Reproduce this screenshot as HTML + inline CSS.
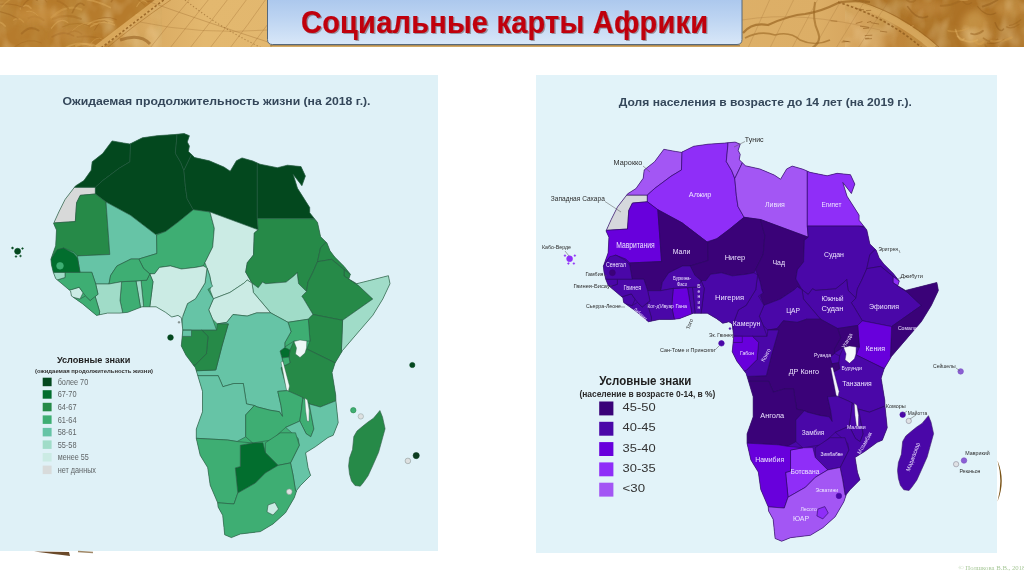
<!DOCTYPE html><html><head><meta charset="utf-8"><style>html,body{margin:0;padding:0;background:#fff;}body{width:1024px;height:574px;position:relative;overflow:hidden;font-family:"Liberation Sans",sans-serif;}.abs{position:absolute;}</style></head><body>
<svg class="abs" style="left:0;top:0" width="1024" height="574" viewBox="0 0 1024 574">
<defs><filter id="swirl" x="0" y="0" width="100%" height="100%"><feTurbulence type="fractalNoise" baseFrequency="0.045 0.03" numOctaves="3" seed="4" result="n"/><feColorMatrix in="n" type="matrix" values="0 0 0 0 0.55  0 0 0 0 0.33  0 0 0 0 0.08  1.8 0 0 0 -0.7"/></filter><filter id="swirl2" x="0" y="0" width="100%" height="100%"><feTurbulence type="fractalNoise" baseFrequency="0.06 0.04" numOctaves="2" seed="9" result="n"/><feColorMatrix in="n" type="matrix" values="0 0 0 0 0.93  0 0 0 0 0.76  0 0 0 0 0.45  0 1.8 0 0 -0.85"/></filter><linearGradient id="hg" x1="0" x2="1024" y1="0" y2="0" gradientUnits="userSpaceOnUse"><stop offset="0" stop-color="#b87e2e"/><stop offset="0.1" stop-color="#bb8233"/><stop offset="0.125" stop-color="#d6a55c"/><stop offset="0.2" stop-color="#e3b86f"/><stop offset="0.5" stop-color="#e0b46c"/><stop offset="0.8" stop-color="#dcae66"/><stop offset="0.855" stop-color="#d3a05a"/><stop offset="0.87" stop-color="#bf863a"/><stop offset="1" stop-color="#c48c40"/></linearGradient><filter id="blur2"><feGaussianBlur stdDeviation="3"/></filter><clipPath id="lclip"><path d="M0 0 H162 L100 47 H0 Z"/></clipPath><clipPath id="rclip"><path d="M845 0 H1024 V47 H933 Q 900 12 845 0 Z"/></clipPath><clipPath id="hclip"><rect x="0" y="0" width="1024" height="47"/></clipPath></defs>
<g clip-path="url(#hclip)">
<rect x="0" y="0" width="1024" height="47" fill="url(#hg)"/>
<path d="M0 0 H162 L100 47 H0 Z" fill="#b67b2c"/>
<path d="M0 0 H162 L100 47 H0 Z" filter="url(#swirl)" opacity="0.55"/>
<path d="M0 0 H162 L100 47 H0 Z" filter="url(#swirl2)" opacity="0.5"/>
<g clip-path="url(#lclip)" fill="none" stroke-linecap="round">
<path d="M62.4 26.9 q 14.2 -6.5 28.5 -0.5" stroke="#a56a22" stroke-width="1.1" opacity="0.45"/>
<path d="M71.9 30.9 q 12.9 -12.5 25.9 -6.5" stroke="#d8a352" stroke-width="1.0" opacity="0.45"/>
<path d="M76.2 45.8 q 11.3 -4.5 22.7 1.5" stroke="#e0b060" stroke-width="2.2" opacity="0.45"/>
<path d="M94.6 30.1 q 6.6 -13.8 13.1 -7.8" stroke="#9a5f1c" stroke-width="0.9" opacity="0.45"/>
<path d="M20.4 8.8 q 5.3 -6.6 10.6 -0.6" stroke="#e0b060" stroke-width="1.6" opacity="0.45"/>
<path d="M21.3 8.3 q 7.9 -13.9 15.9 -7.9" stroke="#9a5f1c" stroke-width="1.4" opacity="0.45"/>
<path d="M34.5 51.9 q 15.0 -0.6 29.9 5.4" stroke="#d8a352" stroke-width="1.2" opacity="0.45"/>
<path d="M26.7 11.5 q 5.7 -1.7 11.4 4.3" stroke="#e0b060" stroke-width="1.0" opacity="0.45"/>
<path d="M36.5 -1.2 q 5.2 -3.0 10.3 3.0" stroke="#a56a22" stroke-width="1.1" opacity="0.45"/>
<path d="M135.6 21.8 q 14.8 -7.6 29.6 -1.6" stroke="#9a5f1c" stroke-width="1.6" opacity="0.45"/>
<path d="M21.8 33.5 q 8.4 -9.0 16.7 -3.0" stroke="#9a5f1c" stroke-width="2.1" opacity="0.45"/>
<path d="M111.3 1.7 q 7.5 -12.4 14.9 -6.4" stroke="#9a5f1c" stroke-width="1.5" opacity="0.45"/>
<path d="M67.9 33.9 q 6.9 -5.9 13.8 0.1" stroke="#a56a22" stroke-width="1.4" opacity="0.45"/>
<path d="M51.4 17.5 q 14.9 -14.0 29.8 -8.0" stroke="#d8a352" stroke-width="2.2" opacity="0.45"/>
<path d="M-6.9 5.7 q 15.0 -4.4 29.9 1.6" stroke="#9a5f1c" stroke-width="0.9" opacity="0.45"/>
<path d="M13.4 20.2 q 5.1 -4.2 10.2 1.8" stroke="#d8a352" stroke-width="1.3" opacity="0.45"/>
<path d="M1.9 6.9 q 11.4 -13.8 22.7 -7.8" stroke="#d8a352" stroke-width="1.3" opacity="0.45"/>
<path d="M62.5 49.7 q 9.8 -4.8 19.7 1.2" stroke="#e0b060" stroke-width="1.1" opacity="0.45"/>
<path d="M14.7 46.8 q 13.2 -10.0 26.4 -4.0" stroke="#a56a22" stroke-width="1.0" opacity="0.45"/>
<path d="M90.6 26.6 q 11.9 -7.8 23.7 -1.8" stroke="#e0b060" stroke-width="1.6" opacity="0.45"/>
<path d="M57.4 0.9 q 5.4 1.4 10.8 7.4" stroke="#a56a22" stroke-width="1.8" opacity="0.45"/>
<path d="M52.7 19.0 q 14.0 -6.1 28.1 -0.1" stroke="#a56a22" stroke-width="2.1" opacity="0.45"/>
<path d="M146.3 2.2 q 9.8 -3.5 19.6 2.5" stroke="#9a5f1c" stroke-width="1.2" opacity="0.45"/>
<path d="M136.8 6.6 q 5.2 -9.7 10.3 -3.7" stroke="#e0b060" stroke-width="1.1" opacity="0.45"/>
<path d="M-2.5 11.1 q 10.3 1.6 20.6 7.6" stroke="#9a5f1c" stroke-width="1.3" opacity="0.45"/>
<path d="M132.6 50.9 q 11.6 -2.9 23.1 3.1" stroke="#a56a22" stroke-width="1.6" opacity="0.45"/>
<path d="M137.8 22.1 q 8.6 -9.0 17.1 -3.0" stroke="#9a5f1c" stroke-width="0.8" opacity="0.45"/>
<path d="M91.8 22.5 q 12.3 -8.9 24.6 -2.9" stroke="#9a5f1c" stroke-width="0.9" opacity="0.45"/>
<path d="M77.4 37.0 q 14.0 -2.2 28.0 3.8" stroke="#a56a22" stroke-width="1.9" opacity="0.45"/>
<path d="M136.4 15.1 q 11.9 0.4 23.7 6.4" stroke="#e0b060" stroke-width="2.1" opacity="0.45"/>
<path d="M-5.2 23.5 q 5.1 -3.4 10.3 2.6" stroke="#e0b060" stroke-width="1.6" opacity="0.45"/>
<path d="M87.4 -0.4 q 11.4 1.9 22.8 7.9" stroke="#e0b060" stroke-width="1.8" opacity="0.45"/>
<path d="M52.1 36.9 q 10.8 -7.0 21.6 -1.0" stroke="#9a5f1c" stroke-width="1.5" opacity="0.45"/>
<path d="M72.3 12.7 q 5.9 -13.6 11.8 -7.6" stroke="#9a5f1c" stroke-width="1.5" opacity="0.45"/>
<path d="M88.3 47.5 q 7.6 -13.8 15.1 -7.8" stroke="#d8a352" stroke-width="1.0" opacity="0.45"/>
<path d="M87.9 24.5 q 12.5 -8.5 25.1 -2.5" stroke="#e0b060" stroke-width="1.5" opacity="0.45"/>
<path d="M28.6 18.1 q 7.5 -3.9 15.0 2.1" stroke="#a56a22" stroke-width="2.0" opacity="0.45"/>
<path d="M51.5 28.2 q 8.2 -11.8 16.3 -5.8" stroke="#e0b060" stroke-width="1.3" opacity="0.45"/>
<path d="M133.3 -2.7 q 5.6 1.7 11.3 7.7" stroke="#a56a22" stroke-width="1.0" opacity="0.45"/>
<path d="M65.4 47.8 q 13.3 -7.9 26.6 -1.9" stroke="#e0b060" stroke-width="1.7" opacity="0.45"/>
</g>
<path d="M845 0 H1024 V47 H933 Q 900 12 845 0 Z" fill="#ad7226"/>
<g filter="url(#blur2)"><ellipse cx="975" cy="30" rx="14" ry="20" fill="#d6a458" opacity="0.55"/><ellipse cx="1010" cy="8" rx="16" ry="9" fill="#d09a50" opacity="0.5"/><ellipse cx="925" cy="8" rx="22" ry="7" fill="#c88f45" opacity="0.5"/><ellipse cx="40" cy="15" rx="25" ry="8" fill="#d09a4c" opacity="0.45"/><ellipse cx="70" cy="35" rx="20" ry="6" fill="#c99048" opacity="0.4"/></g>
<path d="M845 0 H1024 V47 H933 Q 900 12 845 0 Z" filter="url(#swirl)" opacity="0.5"/>
<path d="M845 0 H1024 V47 H933 Q 900 12 845 0 Z" filter="url(#swirl2)" opacity="0.5"/>
<g clip-path="url(#rclip)" fill="none" stroke-linecap="round">
<path d="M987.4 43.0 q 8.4 1.4 16.7 -3.6" stroke="#8f5818" stroke-width="1.2" opacity="0.45"/>
<path d="M971.1 33.7 q 6.0 2.1 11.9 -2.9" stroke="#8f5818" stroke-width="1.8" opacity="0.45"/>
<path d="M940.8 5.8 q 9.4 0.3 18.8 -4.7" stroke="#9c641e" stroke-width="2.1" opacity="0.45"/>
<path d="M1027.6 1.6 q 4.8 5.7 9.5 0.7" stroke="#d6a250" stroke-width="2.3" opacity="0.45"/>
<path d="M982.7 6.4 q 7.3 -1.4 14.7 -6.4" stroke="#8f5818" stroke-width="2.0" opacity="0.45"/>
<path d="M960.2 -2.9 q 5.6 10.6 11.2 5.6" stroke="#9c641e" stroke-width="1.4" opacity="0.45"/>
<path d="M998.8 46.7 q 4.6 13.7 9.2 8.7" stroke="#e2b466" stroke-width="1.0" opacity="0.45"/>
<path d="M948.0 30.7 q 10.4 2.5 20.7 -2.5" stroke="#d6a250" stroke-width="1.5" opacity="0.45"/>
<path d="M977.7 6.7 q 9.1 11.4 18.1 6.4" stroke="#8f5818" stroke-width="1.1" opacity="0.45"/>
<path d="M1015.0 50.9 q 10.8 5.7 21.7 0.7" stroke="#d6a250" stroke-width="1.2" opacity="0.45"/>
<path d="M987.7 -4.1 q 7.5 -4.3 15.1 -9.3" stroke="#d6a250" stroke-width="1.7" opacity="0.45"/>
<path d="M995.2 22.8 q 4.2 11.2 8.4 6.2" stroke="#8f5818" stroke-width="1.5" opacity="0.45"/>
<path d="M885.3 25.4 q 8.8 13.3 17.6 8.3" stroke="#e2b466" stroke-width="1.0" opacity="0.45"/>
<path d="M957.5 36.2 q 9.9 8.8 19.8 3.8" stroke="#e2b466" stroke-width="1.7" opacity="0.45"/>
<path d="M983.4 38.2 q 7.1 6.2 14.2 1.2" stroke="#9c641e" stroke-width="1.6" opacity="0.45"/>
<path d="M1006.5 26.9 q 6.2 2.6 12.4 -2.4" stroke="#9c641e" stroke-width="1.3" opacity="0.45"/>
<path d="M901.2 26.0 q 5.9 5.0 11.8 -0.0" stroke="#e2b466" stroke-width="1.7" opacity="0.45"/>
<path d="M955.5 29.5 q 4.2 14.4 8.4 9.4" stroke="#e2b466" stroke-width="1.7" opacity="0.45"/>
<path d="M1028.4 2.0 q 4.7 -1.7 9.3 -6.7" stroke="#e2b466" stroke-width="1.5" opacity="0.45"/>
<path d="M1023.5 47.6 q 5.9 4.5 11.8 -0.5" stroke="#9c641e" stroke-width="1.3" opacity="0.45"/>
<path d="M1015.1 48.3 q 10.4 5.5 20.9 0.5" stroke="#8f5818" stroke-width="1.1" opacity="0.45"/>
<path d="M972.7 47.7 q 4.9 10.6 9.8 5.6" stroke="#8f5818" stroke-width="0.9" opacity="0.45"/>
<path d="M903.3 -4.3 q 6.0 9.5 12.0 4.5" stroke="#9c641e" stroke-width="1.8" opacity="0.45"/>
<path d="M895.7 36.7 q 4.9 5.2 9.7 0.2" stroke="#d6a250" stroke-width="1.9" opacity="0.45"/>
<path d="M985.2 45.1 q 4.2 7.7 8.3 2.7" stroke="#9c641e" stroke-width="1.7" opacity="0.45"/>
<path d="M1009.6 25.4 q 5.5 -0.7 11.1 -5.7" stroke="#9c641e" stroke-width="1.2" opacity="0.45"/>
<path d="M991.1 41.2 q 10.3 1.3 20.6 -3.7" stroke="#d6a250" stroke-width="2.2" opacity="0.45"/>
<path d="M909.2 39.4 q 5.4 -3.1 10.7 -8.1" stroke="#9c641e" stroke-width="1.0" opacity="0.45"/>
<path d="M893.2 17.1 q 7.0 13.8 14.1 8.8" stroke="#9c641e" stroke-width="1.1" opacity="0.45"/>
<path d="M974.2 40.5 q 4.7 6.4 9.3 1.4" stroke="#d6a250" stroke-width="2.3" opacity="0.45"/>
<path d="M1025.3 1.6 q 7.5 10.2 15.1 5.2" stroke="#9c641e" stroke-width="2.1" opacity="0.45"/>
<path d="M952.3 -3.6 q 9.3 7.3 18.7 2.3" stroke="#e2b466" stroke-width="1.0" opacity="0.45"/>
<path d="M907.7 6.6 q 9.9 14.8 19.8 9.8" stroke="#8f5818" stroke-width="1.7" opacity="0.45"/>
<path d="M900.2 33.8 q 4.5 -3.1 9.1 -8.1" stroke="#e2b466" stroke-width="1.5" opacity="0.45"/>
</g>
<path d="M97 48 L161 -1" stroke="#e0b064" stroke-width="6" fill="none" opacity="0.8"/>
<path d="M101 48 L165 -1" stroke="#8f5a1c" stroke-width="1.6" fill="none" stroke-dasharray="2.5 2" opacity="0.8"/>
<path d="M107 48 Q 130 28 172 -1" stroke="#a36c26" stroke-width="1" fill="none" opacity="0.5"/>
<path d="M120 40 Q 140 33 150 44" stroke="#8f5a1c" stroke-width="3" fill="none" opacity="0.55"/>
<path d="M842 -1 Q 895 14 934 48" stroke="#d8aa60" stroke-width="7" fill="none" opacity="0.85"/>
<path d="M838 2 Q 888 18 922 48" stroke="#8f5a1c" stroke-width="1.6" fill="none" stroke-dasharray="2.5 2" opacity="0.8"/>
<path d="M846 -2 Q 900 10 940 48" stroke="#9a6422" stroke-width="0.9" fill="none" opacity="0.7"/>
<path d="M150 48 Q 168 25 190 -1" stroke="#a8773a" stroke-width="0.7" fill="none" opacity="0.55"/>
<path d="M170 48 Q 188 25 209 -1" stroke="#a8773a" stroke-width="0.7" fill="none" opacity="0.55"/>
<path d="M190 48 Q 208 25 228 -1" stroke="#a8773a" stroke-width="0.7" fill="none" opacity="0.55"/>
<path d="M210 48 Q 228 25 247 -1" stroke="#a8773a" stroke-width="0.7" fill="none" opacity="0.55"/>
<path d="M230 48 Q 248 25 266 -1" stroke="#a8773a" stroke-width="0.7" fill="none" opacity="0.55"/>
<path d="M250 48 Q 268 25 285 -1" stroke="#a8773a" stroke-width="0.7" fill="none" opacity="0.55"/>
<path d="M270 48 Q 288 25 304 -1" stroke="#a8773a" stroke-width="0.7" fill="none" opacity="0.55"/>
<path d="M150 2 Q 200 20 268 42" stroke="#a8773a" stroke-width="0.8" fill="none" opacity="0.55"/>
<path d="M140 22 Q 200 35 268 30" stroke="#a8773a" stroke-width="0.7" fill="none" opacity="0.5"/>
<path d="M185 0 Q 220 28 262 48" stroke="#93642a" stroke-width="1.1" fill="none" opacity="0.6" stroke-dasharray="1.2 2.2"/>
<path d="M743 33 Q 752 22 768 25 Q 790 15 805 14 Q 820 12 838 3 Q 850 0 870 2" stroke="#9a6522" stroke-width="2.2" fill="none" opacity="0.7"/>
<path d="M745 38 Q 760 30 775 35 Q 790 31 800 40 Q 815 47 830 40" stroke="#9a6522" stroke-width="1.6" fill="none" opacity="0.6"/>
<path d="M815 2 Q 812 20 818 32 Q 822 42 812 48" stroke="#9a6522" stroke-width="2" fill="none" opacity="0.6"/>
<path d="M748 48 L 770 -1" stroke="#a8773a" stroke-width="0.6" opacity="0.5"/>
<path d="M770 48 L 794 -1" stroke="#a8773a" stroke-width="0.6" opacity="0.5"/>
<path d="M792 48 L 818 -1" stroke="#a8773a" stroke-width="0.6" opacity="0.5"/>
<path d="M814 48 L 842 -1" stroke="#a8773a" stroke-width="0.6" opacity="0.5"/>
<path d="M836 48 L 866 -1" stroke="#a8773a" stroke-width="0.6" opacity="0.5"/>
<path d="M858 48 L 890 -1" stroke="#a8773a" stroke-width="0.6" opacity="0.5"/>
<path d="M742 20 Q 800 10 880 30" stroke="#a8773a" stroke-width="0.6" fill="none" opacity="0.5"/>
<path d="M855.8 23.5 l 6.6 -1.9" stroke="#8f5a1c" stroke-width="1" opacity="0.55"/>
<path d="M865.1 38.4 l 4.1 -0.2" stroke="#8f5a1c" stroke-width="1" opacity="0.55"/>
<path d="M867.0 22.6 l 4.2 -1.3" stroke="#8f5a1c" stroke-width="1" opacity="0.55"/>
<path d="M855.6 8.6 l 8.4 1.2" stroke="#8f5a1c" stroke-width="1" opacity="0.55"/>
<path d="M865.2 39.0 l 6.8 -0.4" stroke="#8f5a1c" stroke-width="1" opacity="0.55"/>
<path d="M860.0 26.2 l 8.9 1.2" stroke="#8f5a1c" stroke-width="1" opacity="0.55"/>
<path d="M842.9 40.8 l 7.5 1.1" stroke="#8f5a1c" stroke-width="1" opacity="0.55"/>
<path d="M870.7 22.6 l 8.4 1.5" stroke="#8f5a1c" stroke-width="1" opacity="0.55"/>
<path d="M864.7 35.6 l 7.6 -0.4" stroke="#8f5a1c" stroke-width="1" opacity="0.55"/>
<path d="M866.1 10.5 l 5.1 -0.1" stroke="#8f5a1c" stroke-width="1" opacity="0.55"/>
<path d="M830.5 20.8 l 6.8 0.5" stroke="#8f5a1c" stroke-width="1" opacity="0.55"/>
<path d="M841.6 42.0 l 7.0 -0.6" stroke="#8f5a1c" stroke-width="1" opacity="0.55"/>
<path d="M863.0 28.5 l 6.2 -0.4" stroke="#8f5a1c" stroke-width="1" opacity="0.55"/>
<path d="M880.0 31.1 l 7.2 1.0" stroke="#8f5a1c" stroke-width="1" opacity="0.55"/>
</g>
<defs><linearGradient id="tb" x1="0" x2="0" y1="0" y2="1"><stop offset="0" stop-color="#a8c5ec"/><stop offset="0.5" stop-color="#bed5f2"/><stop offset="1" stop-color="#d8e7f8"/></linearGradient></defs>
<path d="M270 45.6 H740" stroke="#5a4428" stroke-width="1.1" opacity="0.35"/>
<path d="M267.5 -5 H742 V39.5 Q742 44.5 737 44.5 H272.5 Q267.5 44.5 267.5 39.5 Z" fill="url(#tb)" stroke="#56687a" stroke-width="1"/>
<rect x="0" y="75" width="438" height="476" fill="#dff1f7"/>
<rect x="536" y="75" width="461" height="478" fill="#e2f3f9"/>
<path d="M34 551.5 Q 55 554 70 556 L 69 552 Z" fill="#6b4a2a"/>
<path d="M78 551.5 L 93 552.5" stroke="#a08868" stroke-width="1.5"/>
<path d="M997.5 460.5 Q 1006 481 997.5 501.5 Q 1003.2 481 997.5 460.5 Z" fill="#7a5418"/>
<clipPath id="Lclip"><path d="M53.6 223.5 L58.8 212.0 L65.1 199.4 L75.5 185.9 L83.9 180.6 L91.2 170.2 L92.2 161.8 L102.7 153.5 L112.1 140.9 L123.6 143.0 L129.9 144.0 L142.4 137.8 L157.0 135.7 L173.8 134.6 L184.2 133.6 L189.4 135.7 L187.3 142.0 L189.4 146.1 L188.4 151.4 L194.7 157.6 L209.3 160.8 L223.9 167.0 L230.2 171.2 L236.4 160.8 L242.0 157.9 L253.0 161.1 L260.0 164.2 L277.4 167.7 L287.4 165.2 L301.0 166.6 L305.4 176.1 L301.9 185.7 L293.2 174.4 L297.5 188.3 L309.7 207.5 L309.7 212.7 L317.5 222.5 L320.6 236.7 L326.9 242.9 L330.0 250.8 L334.7 257.0 L344.1 266.4 L350.4 274.3 L348.8 279.0 L356.7 283.7 L369.2 280.6 L388.4 275.7 L390.0 283.7 L382.8 299.0 L372.8 315.3 L357.7 332.8 L342.6 350.4 L335.1 362.9 L332.0 372.5 L335.7 395.0 L335.9 400.8 L338.2 422.7 L333.2 435.3 L328.0 437.5 L315.6 446.6 L305.6 452.8 L308.1 467.9 L310.6 475.4 L300.6 485.4 L296.8 490.2 L294.3 497.7 L285.5 512.8 L273.0 524.0 L260.4 531.6 L240.3 534.0 L231.4 537.6 L224.7 534.8 L224.0 527.8 L222.7 515.3 L218.1 507.0 L217.7 502.8 L210.2 485.2 L207.7 467.6 L200.2 455.3 L196.3 438.4 L196.3 429.0 L202.5 411.7 L202.5 391.4 L197.8 375.7 L195.4 367.8 L186.0 355.3 L181.3 345.9 L182.8 330.2 L181.3 317.6 L178.0 315.4 L171.8 317.0 L165.5 312.3 L156.1 306.8 L142.0 306.8 L127.8 312.3 L120.0 313.1 L107.5 313.1 L96.5 315.4 L82.4 303.7 L71.4 295.9 L70.6 291.1 L55.7 278.6 L53.3 272.3 L51.5 265.0 L50.9 259.2 L55.7 245.7 L56.5 230.0Z"/></clipPath>
<path d="M53.6 223.5 L58.8 212.0 L65.1 199.4 L75.5 185.9 L83.9 180.6 L91.2 170.2 L92.2 161.8 L102.7 153.5 L112.1 140.9 L123.6 143.0 L129.9 144.0 L142.4 137.8 L157.0 135.7 L173.8 134.6 L184.2 133.6 L189.4 135.7 L187.3 142.0 L189.4 146.1 L188.4 151.4 L194.7 157.6 L209.3 160.8 L223.9 167.0 L230.2 171.2 L236.4 160.8 L242.0 157.9 L253.0 161.1 L260.0 164.2 L277.4 167.7 L287.4 165.2 L301.0 166.6 L305.4 176.1 L301.9 185.7 L293.2 174.4 L297.5 188.3 L309.7 207.5 L309.7 212.7 L317.5 222.5 L320.6 236.7 L326.9 242.9 L330.0 250.8 L334.7 257.0 L344.1 266.4 L350.4 274.3 L348.8 279.0 L356.7 283.7 L369.2 280.6 L388.4 275.7 L390.0 283.7 L382.8 299.0 L372.8 315.3 L357.7 332.8 L342.6 350.4 L335.1 362.9 L332.0 372.5 L335.7 395.0 L335.9 400.8 L338.2 422.7 L333.2 435.3 L328.0 437.5 L315.6 446.6 L305.6 452.8 L308.1 467.9 L310.6 475.4 L300.6 485.4 L296.8 490.2 L294.3 497.7 L285.5 512.8 L273.0 524.0 L260.4 531.6 L240.3 534.0 L231.4 537.6 L224.7 534.8 L224.0 527.8 L222.7 515.3 L218.1 507.0 L217.7 502.8 L210.2 485.2 L207.7 467.6 L200.2 455.3 L196.3 438.4 L196.3 429.0 L202.5 411.7 L202.5 391.4 L197.8 375.7 L195.4 367.8 L186.0 355.3 L181.3 345.9 L182.8 330.2 L181.3 317.6 L178.0 315.4 L171.8 317.0 L165.5 312.3 L156.1 306.8 L142.0 306.8 L127.8 312.3 L120.0 313.1 L107.5 313.1 L96.5 315.4 L82.4 303.7 L71.4 295.9 L70.6 291.1 L55.7 278.6 L53.3 272.3 L51.5 265.0 L50.9 259.2 L55.7 245.7 L56.5 230.0Z" fill="#3eae73"/>
<g clip-path="url(#Lclip)" stroke="#2c5a44" stroke-width="0.6" stroke-linejoin="round">
<polygon points="30.0,223.0 54.0,222.9 75.3,221.6 76.6,202.8 80.3,195.3 95.4,194.0 95.4,187.2 75.3,187.2 30.0,187.0" fill="#d8d9d9"/>
<polygon points="30.0,187.0 75.3,187.2 95.4,187.2 102.7,180.6 119.4,168.1 129.9,161.8 130.5,144.0 130.5,125.0 100.0,120.0 50.0,150.0" fill="#03481e"/>
<polygon points="130.5,125.0 130.5,144.0 129.9,161.8 119.4,168.1 102.7,180.6 95.4,187.2 95.4,194.0 106.0,202.0 130.5,215.3 155.6,234.5 165.7,231.4 178.2,222.0 193.3,209.7 187.1,198.7 185.5,187.7 183.9,170.5 180.8,162.6 175.3,153.2 176.9,136.8 177.0,125.0" fill="#03481e"/>
<polygon points="177.0,125.0 176.9,136.8 175.3,153.2 180.8,162.6 183.9,170.5 191.8,154.0 200.0,150.0 200.0,125.0" fill="#03481e"/>
<polygon points="200.0,150.0 191.8,154.0 183.9,170.5 185.5,187.7 187.1,198.7 193.3,209.7 210.0,212.0 258.2,229.8 257.3,218.6 257.3,140.0 200.0,140.0" fill="#03481e"/>
<polygon points="257.3,140.0 257.3,218.6 309.6,218.6 340.0,218.6 340.0,140.0" fill="#03481e"/>
<polygon points="30.0,222.9 54.0,222.9 75.3,221.6 76.6,202.8 80.3,195.3 95.4,194.0 106.0,202.0 109.8,254.5 77.6,255.9 73.7,252.0 63.5,248.0 55.7,252.0 50.9,259.0 30.0,259.0" fill="#268a48"/>
<polygon points="106.0,202.0 130.5,215.3 155.6,234.5 156.6,235.0 156.9,253.5 138.8,259.0 131.0,259.0 116.9,266.0 110.6,275.5 109.0,284.0 95.7,284.0 91.8,272.3 80.0,272.3 77.6,258.2 77.6,255.9 109.8,254.5" fill="#66c4a6"/>
<polygon points="156.6,235.0 165.7,231.4 178.2,222.0 193.3,209.7 210.0,212.0 214.3,228.2 212.7,247.0 204.9,262.7 203.3,265.9 195.5,267.4 181.4,269.0 170.4,265.9 159.4,267.4 154.7,273.7 149.8,273.9 143.5,268.4 138.8,259.0 156.9,253.5" fill="#3eae73"/>
<polygon points="210.0,212.0 258.2,229.8 254.3,233.0 253.5,254.9 247.3,262.7 245.7,272.1 252.0,283.1 247.2,280.0 244.0,283.1 229.9,292.5 213.4,298.8 210.0,290.0 211.2,283.1 209.6,275.3 208.0,270.6 204.9,262.7 212.7,247.0 214.3,228.2" fill="#cbebe4"/>
<polygon points="257.3,218.6 309.6,218.6 340.0,225.0 326.9,241.4 320.6,247.6 317.5,261.7 312.7,272.7 308.0,282.1 306.5,291.5 298.6,283.7 297.1,272.7 293.9,275.9 286.1,282.1 265.7,283.7 262.5,282.1 258.2,287.8 252.0,283.1 245.7,272.1 247.3,262.7 253.5,254.9 254.3,233.0 258.2,229.8" fill="#268a48"/>
<polygon points="320.6,247.6 326.9,241.4 345.0,238.0 365.0,270.0 350.4,274.3 344.1,269.6 331.6,259.4 317.5,261.7" fill="#268a48"/>
<polygon points="344.1,269.6 350.4,274.3 365.0,272.0 365.0,278.0 348.8,279.0 344.0,276.0" fill="#268a48"/>
<polygon points="317.5,261.7 331.6,259.4 344.1,269.6 344.0,276.0 348.8,279.0 353.5,282.1 358.2,285.3 372.8,299.0 342.6,320.3 313.0,314.5 303.6,298.8 301.8,296.2 306.5,291.5 308.0,282.1 312.7,272.7" fill="#268a48"/>
<polygon points="348.8,279.0 356.7,283.7 380.0,270.0 400.0,268.0 405.0,300.0 380.0,340.0 350.0,370.0 341.4,350.4 342.6,320.3 372.8,299.0 358.2,285.3 353.5,282.1" fill="#a0dcc8"/>
<polygon points="252.0,283.1 258.2,287.8 262.5,282.1 265.7,283.7 286.1,282.1 293.9,275.9 297.1,272.7 298.6,283.7 306.5,291.5 301.8,296.2 303.6,298.8 313.0,314.5 308.3,319.2 288.0,322.3 270.7,312.9 253.4,292.5" fill="#a0dcc8"/>
<polygon points="213.4,298.8 229.9,292.5 244.0,283.1 247.2,280.0 252.0,283.1 253.4,292.5 270.7,312.9 256.6,312.9 247.2,316.1 233.0,314.5 226.8,322.3 217.4,323.9 212.6,319.2 208.7,309.8" fill="#cbebe4"/>
<polygon points="207.0,268.0 209.6,275.3 211.2,283.1 212.6,286.3 207.9,289.4 213.4,298.8 208.7,309.8 212.6,319.2 216.6,330.2 201.7,330.2 184.4,330.2 165.0,330.2 165.0,316.0 182.8,316.1 187.5,303.5 195.4,298.8 205.0,283.0" fill="#66c4a6"/>
<polygon points="149.8,273.9 154.7,273.7 159.4,267.4 170.4,265.9 181.4,269.0 195.5,267.4 203.3,265.9 207.0,268.0 205.0,283.0 195.4,298.8 187.5,303.5 182.8,316.1 181.3,330.0 150.0,330.0 149.8,306.8 153.0,281.7" fill="#cbebe4"/>
<polygon points="141.0,280.5 146.7,280.2 149.8,273.9 153.0,281.7 149.8,306.8 150.0,330.0 143.5,330.0 143.5,305.3" fill="#3eae73"/>
<polygon points="136.0,281.0 141.0,280.5 143.5,305.3 143.5,330.0 140.0,330.0 140.4,306.8" fill="#a0dcc8"/>
<polygon points="121.6,281.7 134.0,281.0 136.0,281.0 140.4,306.8 140.0,330.0 123.0,330.0 123.1,314.7 120.0,300.5" fill="#3eae73"/>
<polygon points="110.6,275.5 116.9,266.0 131.0,259.0 138.8,259.0 143.5,268.4 149.8,273.9 146.7,280.2 134.0,281.0 121.6,281.7 109.0,284.0" fill="#3eae73"/>
<polygon points="95.7,284.0 109.0,284.0 121.6,281.7 120.0,300.5 123.1,314.7 123.0,330.0 98.0,330.0 99.6,311.5 95.0,295.9 98.0,294.3" fill="#a0dcc8"/>
<polygon points="80.0,299.0 85.5,295.9 90.2,300.5 95.0,295.9 99.6,311.5 98.0,330.0 60.0,320.0 50.0,305.0 73.7,297.4" fill="#3eae73"/>
<polygon points="71.4,289.6 79.2,287.2 83.1,292.7 80.0,299.0 73.7,297.4 50.0,305.0 40.0,295.0" fill="#cbebe4"/>
<polygon points="65.0,272.3 91.8,272.3 95.7,284.0 98.0,294.3 90.2,300.5 85.5,295.9 83.1,292.7 79.2,287.2 71.4,289.6 40.0,295.0 40.0,282.0 57.0,280.0 65.0,277.5" fill="#3eae73"/>
<polygon points="30.0,272.3 65.0,272.3 65.0,277.5 57.0,280.0 30.0,282.0" fill="#a0dcc8"/>
<polygon points="30.0,259.0 50.9,259.0 57.3,249.6 63.5,248.0 73.7,253.5 77.6,258.2 80.0,272.3 53.3,272.3 30.0,272.3" fill="#026e2e"/>
<polygon points="308.3,319.2 313.0,314.5 342.6,320.3 341.4,350.4 350.0,370.0 335.1,362.9 306.8,349.0 310.0,341.1" fill="#268a48"/>
<polygon points="288.0,322.3 308.3,319.2 310.0,341.1 294.0,341.0 284.8,347.0 284.8,342.7 291.0,331.7" fill="#3eae73"/>
<polygon points="290.0,350.0 294.0,341.0 306.8,349.0 335.1,362.9 350.0,370.0 350.0,400.0 335.9,400.8 320.2,407.0 309.2,403.9 299.8,396.1 287.3,390.6 281.0,367.8 284.0,366.0 290.0,363.0 289.0,357.0" fill="#268a48"/>
<polygon points="280.0,351.0 284.8,347.5 290.0,350.0 289.0,357.0 282.0,358.0" fill="#026e2e"/>
<polygon points="282.0,358.0 289.0,357.0 290.0,363.0 284.0,366.0" fill="#3eae73"/>
<polygon points="217.4,323.9 226.8,322.3 233.0,314.5 247.2,316.1 256.6,312.9 270.7,312.9 288.0,322.3 291.0,331.7 284.8,342.7 284.8,347.5 280.0,351.0 282.0,358.0 284.0,366.0 281.0,367.8 287.3,390.6 277.8,391.4 281.0,405.5 282.5,416.4 279.4,411.7 270.0,410.2 257.5,407.0 254.3,405.5 246.5,403.9 243.3,383.5 233.9,383.5 222.9,386.7 218.2,375.7 199.4,375.7 190.0,376.0 190.0,371.0 215.8,370.0 222.0,345.9 228.3,323.9" fill="#66c4a6"/>
<polygon points="216.6,330.2 217.4,323.9 228.3,323.9 222.0,345.9 215.8,370.0 190.0,371.0 180.0,368.0 195.4,364.7 206.4,353.7 208.0,336.4 201.7,330.2" fill="#268a48"/>
<polygon points="184.4,330.2 201.7,330.2 208.0,336.4 206.4,353.7 195.4,364.7 180.0,368.0 165.0,350.0 165.0,330.2" fill="#268a48"/>
<polygon points="165.0,330.2 191.5,330.2 191.5,336.4 165.0,336.4" fill="#66c4a6"/>
<polygon points="170.0,375.7 199.4,375.7 218.2,375.7 222.9,386.7 233.9,383.5 243.3,383.5 246.5,403.9 254.3,405.5 245.7,414.9 245.7,436.8 237.0,441.5 227.6,440.0 197.8,438.4 170.0,438.0" fill="#66c4a6"/>
<polygon points="245.7,414.9 254.3,405.5 257.5,407.0 270.0,410.2 279.4,411.7 282.5,416.4 281.0,405.5 277.8,391.4 287.3,390.6 299.8,396.1 302.9,397.6 301.4,410.2 299.8,421.1 285.7,427.4 271.6,440.0 262.2,441.5 252.7,443.0 245.7,436.8" fill="#3eae73"/>
<polygon points="302.9,397.6 309.2,403.9 313.9,429.0 310.8,436.8 306.1,433.7 299.8,421.1 301.4,410.2" fill="#3eae73"/>
<polygon points="313.9,429.0 309.2,403.9 320.2,407.0 335.9,400.8 350.0,400.0 350.0,440.0 320.0,455.0 320.0,480.0 300.0,495.0 295.5,490.5 293.0,475.0 290.5,462.9 299.3,445.3 298.2,438.4 285.7,427.4 299.8,421.1 306.1,433.7 310.8,436.8" fill="#66c4a6"/>
<polygon points="265.4,442.8 280.5,432.8 295.5,432.8 299.3,445.3 290.5,462.9 278.0,465.4 265.4,452.8" fill="#3eae73"/>
<polygon points="240.3,445.3 252.7,443.0 262.9,442.8 265.4,452.8 278.0,465.4 265.4,472.9 255.4,483.0 237.8,493.0 235.3,467.9 240.3,466.6" fill="#026e2e"/>
<polygon points="170.0,438.0 197.8,438.4 227.6,440.0 237.0,441.5 252.7,443.0 240.3,445.3 240.3,466.6 235.3,467.9 237.8,493.0 234.0,504.0 217.7,502.8 180.0,506.0" fill="#3eae73"/>
<polygon points="180.0,506.0 217.7,502.8 234.0,504.0 237.8,493.0 255.4,483.0 265.4,472.9 278.0,465.4 290.5,462.9 293.0,475.0 295.5,490.5 300.0,495.0 320.0,510.0 260.0,550.0 210.0,550.0" fill="#3eae73"/>
<polygon points="268.0,505.0 275.0,502.5 278.5,509.0 273.0,515.0 267.0,512.0" fill="#cbebe4"/>
</g>
<path d="M53.6 223.5 L58.8 212.0 L65.1 199.4 L75.5 185.9 L83.9 180.6 L91.2 170.2 L92.2 161.8 L102.7 153.5 L112.1 140.9 L123.6 143.0 L129.9 144.0 L142.4 137.8 L157.0 135.7 L173.8 134.6 L184.2 133.6 L189.4 135.7 L187.3 142.0 L189.4 146.1 L188.4 151.4 L194.7 157.6 L209.3 160.8 L223.9 167.0 L230.2 171.2 L236.4 160.8 L242.0 157.9 L253.0 161.1 L260.0 164.2 L277.4 167.7 L287.4 165.2 L301.0 166.6 L305.4 176.1 L301.9 185.7 L293.2 174.4 L297.5 188.3 L309.7 207.5 L309.7 212.7 L317.5 222.5 L320.6 236.7 L326.9 242.9 L330.0 250.8 L334.7 257.0 L344.1 266.4 L350.4 274.3 L348.8 279.0 L356.7 283.7 L369.2 280.6 L388.4 275.7 L390.0 283.7 L382.8 299.0 L372.8 315.3 L357.7 332.8 L342.6 350.4 L335.1 362.9 L332.0 372.5 L335.7 395.0 L335.9 400.8 L338.2 422.7 L333.2 435.3 L328.0 437.5 L315.6 446.6 L305.6 452.8 L308.1 467.9 L310.6 475.4 L300.6 485.4 L296.8 490.2 L294.3 497.7 L285.5 512.8 L273.0 524.0 L260.4 531.6 L240.3 534.0 L231.4 537.6 L224.7 534.8 L224.0 527.8 L222.7 515.3 L218.1 507.0 L217.7 502.8 L210.2 485.2 L207.7 467.6 L200.2 455.3 L196.3 438.4 L196.3 429.0 L202.5 411.7 L202.5 391.4 L197.8 375.7 L195.4 367.8 L186.0 355.3 L181.3 345.9 L182.8 330.2 L181.3 317.6 L178.0 315.4 L171.8 317.0 L165.5 312.3 L156.1 306.8 L142.0 306.8 L127.8 312.3 L120.0 313.1 L107.5 313.1 L96.5 315.4 L82.4 303.7 L71.4 295.9 L70.6 291.1 L55.7 278.6 L53.3 272.3 L51.5 265.0 L50.9 259.2 L55.7 245.7 L56.5 230.0Z" fill="none" stroke="#35604c" stroke-width="0.7" stroke-linejoin="round"/>
<polygon points="294.0,341.5 300.0,340.0 306.8,341.0 306.5,348.0 305.0,353.0 300.0,357.5 295.5,354.0 296.5,348.0" fill="#eef7f6" stroke="#2c5a44" stroke-width="0.4"/>
<polygon points="281.0,362.0 283.0,361.5 289.5,386.0 288.5,391.0 286.5,390.0" fill="#eef7f6" stroke="#2c5a44" stroke-width="0.4"/>
<polygon points="304.8,398.0 307.5,400.0 309.2,410.0 309.0,421.5 307.0,421.0 305.5,410.0" fill="#eef7f6" stroke="#2c5a44" stroke-width="0.4"/>
<polygon points="379.9,410.5 382.5,417.0 385.1,428.7 382.0,440.0 378.6,452.3 373.0,465.0 368.1,475.8 363.0,483.0 360.3,486.2 355.0,485.5 351.5,481.0 349.5,474.0 348.6,466.0 349.5,458.0 352.5,449.6 353.8,436.6 357.0,431.0 362.9,426.1 368.0,422.0 373.4,418.3 377.0,414.0" fill="#268a48" stroke="#35604c" stroke-width="0.6"/>
<circle cx="17.6" cy="251.3" r="3.0" fill="#03481e" stroke="#03481e" stroke-width="0.6"/>
<circle cx="12.5" cy="248.0" r="0.9" fill="#03481e" stroke="#03481e" stroke-width="0.6"/>
<circle cx="22.5" cy="248.5" r="0.8" fill="#03481e" stroke="#03481e" stroke-width="0.6"/>
<circle cx="16.0" cy="256.5" r="0.8" fill="#03481e" stroke="#03481e" stroke-width="0.6"/>
<circle cx="20.5" cy="256.0" r="0.8" fill="#03481e" stroke="#03481e" stroke-width="0.6"/>
<circle cx="170.5" cy="337.5" r="2.8" fill="#03481e" stroke="#03481e" stroke-width="0.6"/>
<circle cx="179.0" cy="322.3" r="0.9" fill="#7d8a86" stroke="#7d8a86" stroke-width="0.6"/>
<circle cx="353.3" cy="410.2" r="2.7" fill="#3eae73" stroke="#268a48" stroke-width="0.6"/>
<circle cx="360.8" cy="416.4" r="2.7" fill="#dde0e0" stroke="#9aa" stroke-width="0.6"/>
<circle cx="412.3" cy="365.0" r="2.6" fill="#03481e" stroke="#03481e" stroke-width="0.6"/>
<circle cx="416.2" cy="455.6" r="3.1" fill="#0c3d20" stroke="#0c3d20" stroke-width="0.6"/>
<circle cx="407.9" cy="460.9" r="2.8" fill="#dde0e0" stroke="#8f9a9a" stroke-width="0.6"/>
<circle cx="289.3" cy="491.7" r="2.8" fill="#dfe2e2" stroke="#8a9a95" stroke-width="0.6"/>
<circle cx="60.0" cy="265.8" r="3.4" fill="#3eae73" stroke="#3eae73" stroke-width="0.6"/>
<g transform="matrix(0.988,0,0,0.988,553.1,10.1)"><clipPath id="Rclip"><path d="M53.6 223.5 L58.8 212.0 L65.1 199.4 L75.5 185.9 L83.9 180.6 L91.2 170.2 L92.2 161.8 L102.7 153.5 L112.1 140.9 L123.6 143.0 L129.9 144.0 L142.4 137.8 L157.0 135.7 L173.8 134.6 L184.2 133.6 L189.4 135.7 L187.3 142.0 L189.4 146.1 L188.4 151.4 L194.7 157.6 L209.3 160.8 L223.9 167.0 L230.2 171.2 L236.4 160.8 L242.0 157.9 L253.0 161.1 L260.0 164.2 L277.4 167.7 L287.4 165.2 L301.0 166.6 L305.4 176.1 L301.9 185.7 L293.2 174.4 L297.5 188.3 L309.7 207.5 L309.7 212.7 L317.5 222.5 L320.6 236.7 L326.9 242.9 L330.0 250.8 L334.7 257.0 L344.1 266.4 L350.4 274.3 L348.8 279.0 L356.7 283.7 L369.2 280.6 L388.4 275.7 L390.0 283.7 L382.8 299.0 L372.8 315.3 L357.7 332.8 L342.6 350.4 L335.1 362.9 L332.0 372.5 L335.7 395.0 L335.9 400.8 L338.2 422.7 L333.2 435.3 L328.0 437.5 L315.6 446.6 L305.6 452.8 L308.1 467.9 L310.6 475.4 L300.6 485.4 L296.8 490.2 L294.3 497.7 L285.5 512.8 L273.0 524.0 L260.4 531.6 L240.3 534.0 L231.4 537.6 L224.7 534.8 L224.0 527.8 L222.7 515.3 L218.1 507.0 L217.7 502.8 L210.2 485.2 L207.7 467.6 L200.2 455.3 L196.3 438.4 L196.3 429.0 L202.5 411.7 L202.5 391.4 L197.8 375.7 L195.4 367.8 L186.0 355.3 L181.3 345.9 L182.8 330.2 L181.3 317.6 L178.0 315.4 L171.8 317.0 L165.5 312.3 L156.1 306.8 L142.0 306.8 L127.8 312.3 L120.0 313.1 L107.5 313.1 L96.5 315.4 L82.4 303.7 L71.4 295.9 L70.6 291.1 L55.7 278.6 L53.3 272.3 L51.5 265.0 L50.9 259.2 L55.7 245.7 L56.5 230.0Z"/></clipPath>
<path d="M53.6 223.5 L58.8 212.0 L65.1 199.4 L75.5 185.9 L83.9 180.6 L91.2 170.2 L92.2 161.8 L102.7 153.5 L112.1 140.9 L123.6 143.0 L129.9 144.0 L142.4 137.8 L157.0 135.7 L173.8 134.6 L184.2 133.6 L189.4 135.7 L187.3 142.0 L189.4 146.1 L188.4 151.4 L194.7 157.6 L209.3 160.8 L223.9 167.0 L230.2 171.2 L236.4 160.8 L242.0 157.9 L253.0 161.1 L260.0 164.2 L277.4 167.7 L287.4 165.2 L301.0 166.6 L305.4 176.1 L301.9 185.7 L293.2 174.4 L297.5 188.3 L309.7 207.5 L309.7 212.7 L317.5 222.5 L320.6 236.7 L326.9 242.9 L330.0 250.8 L334.7 257.0 L344.1 266.4 L350.4 274.3 L348.8 279.0 L356.7 283.7 L369.2 280.6 L388.4 275.7 L390.0 283.7 L382.8 299.0 L372.8 315.3 L357.7 332.8 L342.6 350.4 L335.1 362.9 L332.0 372.5 L335.7 395.0 L335.9 400.8 L338.2 422.7 L333.2 435.3 L328.0 437.5 L315.6 446.6 L305.6 452.8 L308.1 467.9 L310.6 475.4 L300.6 485.4 L296.8 490.2 L294.3 497.7 L285.5 512.8 L273.0 524.0 L260.4 531.6 L240.3 534.0 L231.4 537.6 L224.7 534.8 L224.0 527.8 L222.7 515.3 L218.1 507.0 L217.7 502.8 L210.2 485.2 L207.7 467.6 L200.2 455.3 L196.3 438.4 L196.3 429.0 L202.5 411.7 L202.5 391.4 L197.8 375.7 L195.4 367.8 L186.0 355.3 L181.3 345.9 L182.8 330.2 L181.3 317.6 L178.0 315.4 L171.8 317.0 L165.5 312.3 L156.1 306.8 L142.0 306.8 L127.8 312.3 L120.0 313.1 L107.5 313.1 L96.5 315.4 L82.4 303.7 L71.4 295.9 L70.6 291.1 L55.7 278.6 L53.3 272.3 L51.5 265.0 L50.9 259.2 L55.7 245.7 L56.5 230.0Z" fill="#4a07a8"/>
<g clip-path="url(#Rclip)" stroke="#2c0c60" stroke-width="0.6" stroke-linejoin="round">
<polygon points="30.0,223.0 54.0,222.9 75.3,221.6 76.6,202.8 80.3,195.3 95.4,194.0 95.4,187.2 75.3,187.2 30.0,187.0" fill="#d5d8dc"/>
<polygon points="30.0,187.0 75.3,187.2 95.4,187.2 102.7,180.6 119.4,168.1 129.9,161.8 130.5,144.0 130.5,125.0 100.0,120.0 50.0,150.0" fill="#a356f4"/>
<polygon points="130.5,125.0 130.5,144.0 129.9,161.8 119.4,168.1 102.7,180.6 95.4,187.2 95.4,194.0 106.0,202.0 130.5,215.3 155.6,234.5 165.7,231.4 178.2,222.0 193.3,209.7 187.1,198.7 185.5,187.7 183.9,170.5 180.8,162.6 175.3,153.2 176.9,136.8 177.0,125.0" fill="#8f2ef8"/>
<polygon points="177.0,125.0 176.9,136.8 175.3,153.2 180.8,162.6 183.9,170.5 191.8,154.0 200.0,150.0 200.0,125.0" fill="#a356f4"/>
<polygon points="200.0,150.0 191.8,154.0 183.9,170.5 185.5,187.7 187.1,198.7 193.3,209.7 210.0,212.0 258.2,229.8 257.3,218.6 257.3,140.0 200.0,140.0" fill="#a356f4"/>
<polygon points="257.3,140.0 257.3,218.6 309.6,218.6 340.0,218.6 340.0,140.0" fill="#8f2ef8"/>
<polygon points="30.0,222.9 54.0,222.9 75.3,221.6 76.6,202.8 80.3,195.3 95.4,194.0 106.0,202.0 109.8,254.5 77.6,255.9 73.7,252.0 63.5,248.0 55.7,252.0 50.9,259.0 30.0,259.0" fill="#6800dc"/>
<polygon points="106.0,202.0 130.5,215.3 155.6,234.5 156.6,235.0 156.9,253.5 138.8,259.0 131.0,259.0 116.9,266.0 110.6,275.5 109.0,284.0 95.7,284.0 91.8,272.3 80.0,272.3 77.6,258.2 77.6,255.9 109.8,254.5" fill="#3a0278"/>
<polygon points="156.6,235.0 165.7,231.4 178.2,222.0 193.3,209.7 210.0,212.0 214.3,228.2 212.7,247.0 204.9,262.7 203.3,265.9 195.5,267.4 181.4,269.0 170.4,265.9 159.4,267.4 154.7,273.7 149.8,273.9 143.5,268.4 138.8,259.0 156.9,253.5" fill="#3a0278"/>
<polygon points="210.0,212.0 258.2,229.8 254.3,233.0 253.5,254.9 247.3,262.7 245.7,272.1 252.0,283.1 247.2,280.0 244.0,283.1 229.9,292.5 213.4,298.8 210.0,290.0 211.2,283.1 209.6,275.3 208.0,270.6 204.9,262.7 212.7,247.0 214.3,228.2" fill="#3a0278"/>
<polygon points="257.3,218.6 309.6,218.6 340.0,225.0 326.9,241.4 320.6,247.6 317.5,261.7 312.7,272.7 308.0,282.1 306.5,291.5 298.6,283.7 297.1,272.7 293.9,275.9 286.1,282.1 265.7,283.7 262.5,282.1 258.2,287.8 252.0,283.1 245.7,272.1 247.3,262.7 253.5,254.9 254.3,233.0 258.2,229.8" fill="#4a07a8"/>
<polygon points="320.6,247.6 326.9,241.4 345.0,238.0 365.0,270.0 350.4,274.3 344.1,269.6 331.6,259.4 317.5,261.7" fill="#4a07a8"/>
<polygon points="344.1,269.6 350.4,274.3 365.0,272.0 365.0,278.0 348.8,279.0 344.0,276.0" fill="#8f2ef8"/>
<polygon points="317.5,261.7 331.6,259.4 344.1,269.6 344.0,276.0 348.8,279.0 353.5,282.1 358.2,285.3 372.8,299.0 342.6,320.3 313.0,314.5 303.6,298.8 301.8,296.2 306.5,291.5 308.0,282.1 312.7,272.7" fill="#4a07a8"/>
<polygon points="348.8,279.0 356.7,283.7 380.0,270.0 400.0,268.0 405.0,300.0 380.0,340.0 350.0,370.0 341.4,350.4 342.6,320.3 372.8,299.0 358.2,285.3 353.5,282.1" fill="#3a0278"/>
<polygon points="252.0,283.1 258.2,287.8 262.5,282.1 265.7,283.7 286.1,282.1 293.9,275.9 297.1,272.7 298.6,283.7 306.5,291.5 301.8,296.2 303.6,298.8 313.0,314.5 308.3,319.2 288.0,322.3 270.7,312.9 253.4,292.5" fill="#4a07a8"/>
<polygon points="213.4,298.8 229.9,292.5 244.0,283.1 247.2,280.0 252.0,283.1 253.4,292.5 270.7,312.9 256.6,312.9 247.2,316.1 233.0,314.5 226.8,322.3 217.4,323.9 212.6,319.2 208.7,309.8" fill="#4a07a8"/>
<polygon points="207.0,268.0 209.6,275.3 211.2,283.1 212.6,286.3 207.9,289.4 213.4,298.8 208.7,309.8 212.6,319.2 216.6,330.2 201.7,330.2 184.4,330.2 165.0,330.2 165.0,316.0 182.8,316.1 187.5,303.5 195.4,298.8 205.0,283.0" fill="#4a07a8"/>
<polygon points="149.8,273.9 154.7,273.7 159.4,267.4 170.4,265.9 181.4,269.0 195.5,267.4 203.3,265.9 207.0,268.0 205.0,283.0 195.4,298.8 187.5,303.5 182.8,316.1 181.3,330.0 150.0,330.0 149.8,306.8 153.0,281.7" fill="#4a07a8"/>
<polygon points="141.0,280.5 146.7,280.2 149.8,273.9 153.0,281.7 149.8,306.8 150.0,330.0 143.5,330.0 143.5,305.3" fill="#4a07a8"/>
<polygon points="136.0,281.0 141.0,280.5 143.5,305.3 143.5,330.0 140.0,330.0 140.4,306.8" fill="#4a07a8"/>
<polygon points="121.6,281.7 134.0,281.0 136.0,281.0 140.4,306.8 140.0,330.0 123.0,330.0 123.1,314.7 120.0,300.5" fill="#6800dc"/>
<polygon points="110.6,275.5 116.9,266.0 131.0,259.0 138.8,259.0 143.5,268.4 149.8,273.9 146.7,280.2 134.0,281.0 121.6,281.7 109.0,284.0" fill="#4a07a8"/>
<polygon points="95.7,284.0 109.0,284.0 121.6,281.7 120.0,300.5 123.1,314.7 123.0,330.0 98.0,330.0 99.6,311.5 95.0,295.9 98.0,294.3" fill="#4a07a8"/>
<polygon points="80.0,299.0 85.5,295.9 90.2,300.5 95.0,295.9 99.6,311.5 98.0,330.0 60.0,320.0 50.0,305.0 73.7,297.4" fill="#4a07a8"/>
<polygon points="71.4,289.6 79.2,287.2 83.1,292.7 80.0,299.0 73.7,297.4 50.0,305.0 40.0,295.0" fill="#4a07a8"/>
<polygon points="65.0,272.3 91.8,272.3 95.7,284.0 98.0,294.3 90.2,300.5 85.5,295.9 83.1,292.7 79.2,287.2 71.4,289.6 40.0,295.0 40.0,282.0 57.0,280.0 65.0,277.5" fill="#4a07a8"/>
<polygon points="30.0,272.3 65.0,272.3 65.0,277.5 57.0,280.0 30.0,282.0" fill="#4a07a8"/>
<polygon points="30.0,259.0 50.9,259.0 57.3,249.6 63.5,248.0 73.7,253.5 77.6,258.2 80.0,272.3 53.3,272.3 30.0,272.3" fill="#4a07a8"/>
<polygon points="308.3,319.2 313.0,314.5 342.6,320.3 341.4,350.4 350.0,370.0 335.1,362.9 306.8,349.0 310.0,341.1" fill="#6800dc"/>
<polygon points="288.0,322.3 308.3,319.2 310.0,341.1 294.0,341.0 284.8,347.0 284.8,342.7 291.0,331.7" fill="#3a0278"/>
<polygon points="290.0,350.0 294.0,341.0 306.8,349.0 335.1,362.9 350.0,370.0 350.0,400.0 335.9,400.8 320.2,407.0 309.2,403.9 299.8,396.1 287.3,390.6 281.0,367.8 284.0,366.0 290.0,363.0 289.0,357.0" fill="#4a07a8"/>
<polygon points="280.0,351.0 284.8,347.5 290.0,350.0 289.0,357.0 282.0,358.0" fill="#4a07a8"/>
<polygon points="282.0,358.0 289.0,357.0 290.0,363.0 284.0,366.0" fill="#3a0278"/>
<polygon points="217.4,323.9 226.8,322.3 233.0,314.5 247.2,316.1 256.6,312.9 270.7,312.9 288.0,322.3 291.0,331.7 284.8,342.7 284.8,347.5 280.0,351.0 282.0,358.0 284.0,366.0 281.0,367.8 287.3,390.6 277.8,391.4 281.0,405.5 282.5,416.4 279.4,411.7 270.0,410.2 257.5,407.0 254.3,405.5 246.5,403.9 243.3,383.5 233.9,383.5 222.9,386.7 218.2,375.7 199.4,375.7 190.0,376.0 190.0,371.0 215.8,370.0 222.0,345.9 228.3,323.9" fill="#3a0278"/>
<polygon points="216.6,330.2 217.4,323.9 228.3,323.9 222.0,345.9 215.8,370.0 190.0,371.0 180.0,368.0 195.4,364.7 206.4,353.7 208.0,336.4 201.7,330.2" fill="#4a07a8"/>
<polygon points="184.4,330.2 201.7,330.2 208.0,336.4 206.4,353.7 195.4,364.7 180.0,368.0 165.0,350.0 165.0,330.2" fill="#6800dc"/>
<polygon points="165.0,330.2 191.5,330.2 191.5,336.4 165.0,336.4" fill="#6800dc"/>
<polygon points="170.0,375.7 199.4,375.7 218.2,375.7 222.9,386.7 233.9,383.5 243.3,383.5 246.5,403.9 254.3,405.5 245.7,414.9 245.7,436.8 237.0,441.5 227.6,440.0 197.8,438.4 170.0,438.0" fill="#3a0278"/>
<polygon points="245.7,414.9 254.3,405.5 257.5,407.0 270.0,410.2 279.4,411.7 282.5,416.4 281.0,405.5 277.8,391.4 287.3,390.6 299.8,396.1 302.9,397.6 301.4,410.2 299.8,421.1 285.7,427.4 271.6,440.0 262.2,441.5 252.7,443.0 245.7,436.8" fill="#4a07a8"/>
<polygon points="302.9,397.6 309.2,403.9 313.9,429.0 310.8,436.8 306.1,433.7 299.8,421.1 301.4,410.2" fill="#4a07a8"/>
<polygon points="313.9,429.0 309.2,403.9 320.2,407.0 335.9,400.8 350.0,400.0 350.0,440.0 320.0,455.0 320.0,480.0 300.0,495.0 295.5,490.5 293.0,475.0 290.5,462.9 299.3,445.3 298.2,438.4 285.7,427.4 299.8,421.1 306.1,433.7 310.8,436.8" fill="#4a07a8"/>
<polygon points="265.4,442.8 280.5,432.8 295.5,432.8 299.3,445.3 290.5,462.9 278.0,465.4 265.4,452.8" fill="#4a07a8"/>
<polygon points="240.3,445.3 252.7,443.0 262.9,442.8 265.4,452.8 278.0,465.4 265.4,472.9 255.4,483.0 237.8,493.0 235.3,467.9 240.3,466.6" fill="#8f2ef8"/>
<polygon points="170.0,438.0 197.8,438.4 227.6,440.0 237.0,441.5 252.7,443.0 240.3,445.3 240.3,466.6 235.3,467.9 237.8,493.0 234.0,504.0 217.7,502.8 180.0,506.0" fill="#6800dc"/>
<polygon points="180.0,506.0 217.7,502.8 234.0,504.0 237.8,493.0 255.4,483.0 265.4,472.9 278.0,465.4 290.5,462.9 293.0,475.0 295.5,490.5 300.0,495.0 320.0,510.0 260.0,550.0 210.0,550.0" fill="#a356f4"/>
<polygon points="268.0,505.0 275.0,502.5 278.5,509.0 273.0,515.0 267.0,512.0" fill="#8f2ef8"/>
</g>
<path d="M53.6 223.5 L58.8 212.0 L65.1 199.4 L75.5 185.9 L83.9 180.6 L91.2 170.2 L92.2 161.8 L102.7 153.5 L112.1 140.9 L123.6 143.0 L129.9 144.0 L142.4 137.8 L157.0 135.7 L173.8 134.6 L184.2 133.6 L189.4 135.7 L187.3 142.0 L189.4 146.1 L188.4 151.4 L194.7 157.6 L209.3 160.8 L223.9 167.0 L230.2 171.2 L236.4 160.8 L242.0 157.9 L253.0 161.1 L260.0 164.2 L277.4 167.7 L287.4 165.2 L301.0 166.6 L305.4 176.1 L301.9 185.7 L293.2 174.4 L297.5 188.3 L309.7 207.5 L309.7 212.7 L317.5 222.5 L320.6 236.7 L326.9 242.9 L330.0 250.8 L334.7 257.0 L344.1 266.4 L350.4 274.3 L348.8 279.0 L356.7 283.7 L369.2 280.6 L388.4 275.7 L390.0 283.7 L382.8 299.0 L372.8 315.3 L357.7 332.8 L342.6 350.4 L335.1 362.9 L332.0 372.5 L335.7 395.0 L335.9 400.8 L338.2 422.7 L333.2 435.3 L328.0 437.5 L315.6 446.6 L305.6 452.8 L308.1 467.9 L310.6 475.4 L300.6 485.4 L296.8 490.2 L294.3 497.7 L285.5 512.8 L273.0 524.0 L260.4 531.6 L240.3 534.0 L231.4 537.6 L224.7 534.8 L224.0 527.8 L222.7 515.3 L218.1 507.0 L217.7 502.8 L210.2 485.2 L207.7 467.6 L200.2 455.3 L196.3 438.4 L196.3 429.0 L202.5 411.7 L202.5 391.4 L197.8 375.7 L195.4 367.8 L186.0 355.3 L181.3 345.9 L182.8 330.2 L181.3 317.6 L178.0 315.4 L171.8 317.0 L165.5 312.3 L156.1 306.8 L142.0 306.8 L127.8 312.3 L120.0 313.1 L107.5 313.1 L96.5 315.4 L82.4 303.7 L71.4 295.9 L70.6 291.1 L55.7 278.6 L53.3 272.3 L51.5 265.0 L50.9 259.2 L55.7 245.7 L56.5 230.0Z" fill="none" stroke="#3a1a6a" stroke-width="0.7" stroke-linejoin="round"/>
<polygon points="294.0,341.5 300.0,340.0 306.8,341.0 306.5,348.0 305.0,353.0 300.0,357.5 295.5,354.0 296.5,348.0" fill="#f4f8fb" stroke="#2c0c60" stroke-width="0.4"/>
<polygon points="281.0,362.0 283.0,361.5 289.5,386.0 288.5,391.0 286.5,390.0" fill="#f4f8fb" stroke="#2c0c60" stroke-width="0.4"/>
<polygon points="304.8,398.0 307.5,400.0 309.2,410.0 309.0,421.5 307.0,421.0 305.5,410.0" fill="#f4f8fb" stroke="#2c0c60" stroke-width="0.4"/>
<polygon points="379.9,410.5 382.5,417.0 385.1,428.7 382.0,440.0 378.6,452.3 373.0,465.0 368.1,475.8 363.0,483.0 360.3,486.2 355.0,485.5 351.5,481.0 349.5,474.0 348.6,466.0 349.5,458.0 352.5,449.6 353.8,436.6 357.0,431.0 362.9,426.1 368.0,422.0 373.4,418.3 377.0,414.0" fill="#4a07a8" stroke="#3a1a6a" stroke-width="0.6"/>
<circle cx="16.7" cy="251.7" r="3.0" fill="#8f2ef8" stroke="#8f2ef8" stroke-width="0.6"/>
<circle cx="12.0" cy="248.5" r="0.8" fill="#8f2ef8" stroke="#8f2ef8" stroke-width="0.6"/>
<circle cx="22.0" cy="248.5" r="0.8" fill="#8f2ef8" stroke="#8f2ef8" stroke-width="0.6"/>
<circle cx="15.5" cy="256.5" r="0.8" fill="#8f2ef8" stroke="#8f2ef8" stroke-width="0.6"/>
<circle cx="21.0" cy="256.5" r="0.8" fill="#8f2ef8" stroke="#8f2ef8" stroke-width="0.6"/>
<circle cx="170.4" cy="337.3" r="2.8" fill="#4a07a8" stroke="#4a07a8" stroke-width="0.6"/>
<circle cx="179.0" cy="322.3" r="0.9" fill="#4a07a8" stroke="#4a07a8" stroke-width="0.6"/>
<circle cx="353.8" cy="409.5" r="2.8" fill="#4a07a8" stroke="#4a07a8" stroke-width="0.6"/>
<circle cx="360.0" cy="415.8" r="2.7" fill="#dfe1e4" stroke="#8a8a9a" stroke-width="0.6"/>
<circle cx="412.5" cy="365.7" r="2.8" fill="#8b5fd4" stroke="#7a50c0" stroke-width="0.6"/>
<circle cx="415.9" cy="455.9" r="2.8" fill="#8b5fd4" stroke="#7a50c0" stroke-width="0.6"/>
<circle cx="407.9" cy="459.6" r="2.7" fill="#dfe1e4" stroke="#8a8a9a" stroke-width="0.6"/>
<circle cx="289.3" cy="491.7" r="2.8" fill="#4a07a8" stroke="#4a07a8" stroke-width="0.6"/>
<circle cx="60.0" cy="265.8" r="3.0" fill="#3a0278" stroke="#3a0278" stroke-width="0.6"/></g>
<text x="328.59" y="34.10" font-family="Liberation Sans" font-size="31.5" font-weight="bold" fill="#4a2020" stroke="#4a2020" stroke-width="0.2" opacity="0.4" textLength="442.39" lengthAdjust="spacing" transform="scale(0.920,1)">Социальные карты Африки</text>
<text x="327.17" y="32.80" font-family="Liberation Sans" font-size="31.5" font-weight="bold" fill="#c0000c" stroke="#c0000c" stroke-width="0.2" opacity="1" textLength="442.39" lengthAdjust="spacing" transform="scale(0.920,1)">Социальные карты Африки</text>
<text x="62.5" y="105.2" font-family="Liberation Sans" font-size="11.2" font-weight="bold" fill="#34475a" text-anchor="start" textLength="308.0" lengthAdjust="spacingAndGlyphs">Ожидаемая продолжительность жизни (на 2018 г.).</text>
<text x="618.8" y="105.5" font-family="Liberation Sans" font-size="11.2" font-weight="bold" fill="#34475a" text-anchor="start" textLength="293.0" lengthAdjust="spacingAndGlyphs">Доля населения в возрасте до 14 лет (на 2019 г.).</text>
<text x="56.9" y="362.8" font-family="Liberation Sans" font-size="9.2" font-weight="bold" fill="#1e1e1e" text-anchor="start" textLength="73.4" lengthAdjust="spacingAndGlyphs">Условные знаки</text>
<text x="35.0" y="372.6" font-family="Liberation Sans" font-size="5.8" font-weight="bold" fill="#333" text-anchor="start" textLength="118.0" lengthAdjust="spacingAndGlyphs">(ожидаемая продолжительность жизни)</text>
<rect x="42.7" y="377.7" width="8.9" height="8.5" fill="#03481e"/>
<text x="57.7" y="384.9" font-family="Liberation Sans" font-size="8.6" font-weight="normal" fill="#5f6466" text-anchor="start" textLength="30.5" lengthAdjust="spacingAndGlyphs">более 70</text>
<rect x="42.7" y="390.2" width="8.9" height="8.5" fill="#026e2e"/>
<text x="57.7" y="397.4" font-family="Liberation Sans" font-size="8.6" font-weight="normal" fill="#5f6466" text-anchor="start" textLength="18.8" lengthAdjust="spacingAndGlyphs">67-70</text>
<rect x="42.7" y="402.8" width="8.9" height="8.5" fill="#268a48"/>
<text x="57.7" y="410.0" font-family="Liberation Sans" font-size="8.6" font-weight="normal" fill="#5f6466" text-anchor="start" textLength="18.8" lengthAdjust="spacingAndGlyphs">64-67</text>
<rect x="42.7" y="415.4" width="8.9" height="8.5" fill="#3eae73"/>
<text x="57.7" y="422.6" font-family="Liberation Sans" font-size="8.6" font-weight="normal" fill="#5f6466" text-anchor="start" textLength="18.8" lengthAdjust="spacingAndGlyphs">61-64</text>
<rect x="42.7" y="427.9" width="8.9" height="8.5" fill="#66c4a6"/>
<text x="57.7" y="435.1" font-family="Liberation Sans" font-size="8.6" font-weight="normal" fill="#5f6466" text-anchor="start" textLength="18.8" lengthAdjust="spacingAndGlyphs">58-61</text>
<rect x="42.7" y="440.4" width="8.9" height="8.5" fill="#a0dcc8"/>
<text x="57.7" y="447.6" font-family="Liberation Sans" font-size="8.6" font-weight="normal" fill="#5f6466" text-anchor="start" textLength="18.8" lengthAdjust="spacingAndGlyphs">55-58</text>
<rect x="42.7" y="453.0" width="8.9" height="8.5" fill="#cbebe4"/>
<text x="57.7" y="460.2" font-family="Liberation Sans" font-size="8.6" font-weight="normal" fill="#5f6466" text-anchor="start" textLength="31.0" lengthAdjust="spacingAndGlyphs">менее 55</text>
<rect x="42.7" y="465.6" width="8.9" height="8.5" fill="#d8dbdb"/>
<text x="57.7" y="472.8" font-family="Liberation Sans" font-size="8.6" font-weight="normal" fill="#5f6466" text-anchor="start" textLength="38.3" lengthAdjust="spacingAndGlyphs">нет данных</text>
<text x="599.2" y="384.8" font-family="Liberation Sans" font-size="12.0" font-weight="bold" fill="#1e1e1e" text-anchor="start" textLength="92.2" lengthAdjust="spacingAndGlyphs">Условные знаки</text>
<text x="579.4" y="396.6" font-family="Liberation Sans" font-size="8.3" font-weight="bold" fill="#2a2a2a" text-anchor="start" textLength="136.0" lengthAdjust="spacingAndGlyphs">(население в возрасте 0-14, в %)</text>
<rect x="599.2" y="401.5" width="14.2" height="13.9" fill="#3a0278"/>
<text x="622.6" y="411.1" font-family="Liberation Sans" font-size="11.2" font-weight="normal" fill="#333" text-anchor="start" textLength="33.0" lengthAdjust="spacingAndGlyphs">45-50</text>
<rect x="599.2" y="421.8" width="14.2" height="13.9" fill="#4a07a8"/>
<text x="622.6" y="431.4" font-family="Liberation Sans" font-size="11.2" font-weight="normal" fill="#333" text-anchor="start" textLength="33.0" lengthAdjust="spacingAndGlyphs">40-45</text>
<rect x="599.2" y="442.1" width="14.2" height="13.9" fill="#6800dc"/>
<text x="622.6" y="451.7" font-family="Liberation Sans" font-size="11.2" font-weight="normal" fill="#333" text-anchor="start" textLength="33.0" lengthAdjust="spacingAndGlyphs">35-40</text>
<rect x="599.2" y="462.4" width="14.2" height="13.9" fill="#8f2ef8"/>
<text x="622.6" y="472.0" font-family="Liberation Sans" font-size="11.2" font-weight="normal" fill="#333" text-anchor="start" textLength="33.0" lengthAdjust="spacingAndGlyphs">30-35</text>
<rect x="599.2" y="482.7" width="14.2" height="13.9" fill="#a356f4"/>
<text x="622.6" y="492.3" font-family="Liberation Sans" font-size="11.2" font-weight="normal" fill="#333" text-anchor="start" textLength="22.5" lengthAdjust="spacingAndGlyphs">&lt;30</text>
<text x="958.5" y="570.0" font-family="Liberation Serif" font-size="6.6" font-weight="normal" fill="#a9c99a" text-anchor="start" textLength="67.0" lengthAdjust="spacingAndGlyphs">© Полшкова В.В., 2018</text>
<text x="700.1" y="196.7" font-family="Liberation Sans" font-size="7.6" fill="#ece4ff" text-anchor="middle" textLength="22.5" lengthAdjust="spacingAndGlyphs">Алжир</text>
<text x="774.9" y="206.7" font-family="Liberation Sans" font-size="7.6" fill="#ece4ff" text-anchor="middle" textLength="20.0" lengthAdjust="spacingAndGlyphs">Ливия</text>
<text x="831.4" y="206.7" font-family="Liberation Sans" font-size="7.6" fill="#ece4ff" text-anchor="middle" textLength="20.0" lengthAdjust="spacingAndGlyphs">Египет</text>
<text x="635.5" y="248.0" font-family="Liberation Sans" font-size="8.2" fill="#ece4ff" text-anchor="middle" textLength="38.6" lengthAdjust="spacingAndGlyphs">Мавритания</text>
<text x="681.5" y="254.2" font-family="Liberation Sans" font-size="8.0" fill="#ece4ff" text-anchor="middle" textLength="17.5" lengthAdjust="spacingAndGlyphs">Мали</text>
<text x="735.0" y="259.9" font-family="Liberation Sans" font-size="8.0" fill="#ece4ff" text-anchor="middle" textLength="20.6" lengthAdjust="spacingAndGlyphs">Нигер</text>
<text x="778.7" y="265.2" font-family="Liberation Sans" font-size="7.6" fill="#ece4ff" text-anchor="middle" textLength="12.5" lengthAdjust="spacingAndGlyphs">Чад</text>
<text x="833.9" y="256.9" font-family="Liberation Sans" font-size="7.6" fill="#ece4ff" text-anchor="middle" textLength="20.0" lengthAdjust="spacingAndGlyphs">Судан</text>
<text x="616.0" y="267.3" font-family="Liberation Sans" font-size="6.4" fill="#ece4ff" text-anchor="middle" textLength="20.0" lengthAdjust="spacingAndGlyphs">Сенегал</text>
<text x="632.4" y="290.0" font-family="Liberation Sans" font-size="6.4" fill="#ece4ff" text-anchor="middle" textLength="17.6" lengthAdjust="spacingAndGlyphs">Гвинея</text>
<text x="682.0" y="279.5" font-family="Liberation Sans" font-size="4.6" fill="#ece4ff" text-anchor="middle" textLength="18.0" lengthAdjust="spacingAndGlyphs">Буркина-</text>
<text x="682.0" y="285.7" font-family="Liberation Sans" font-size="4.6" fill="#ece4ff" text-anchor="middle" textLength="10.0" lengthAdjust="spacingAndGlyphs">Фасо</text>
<text x="729.5" y="299.9" font-family="Liberation Sans" font-size="7.6" fill="#ece4ff" text-anchor="middle" textLength="29.0" lengthAdjust="spacingAndGlyphs">Нигерия</text>
<text x="660.6" y="307.5" font-family="Liberation Sans" font-size="5.0" fill="#ece4ff" text-anchor="middle" textLength="26.4" lengthAdjust="spacingAndGlyphs">Кот-д'Ивуар</text>
<text x="681.2" y="307.9" font-family="Liberation Sans" font-size="6.0" fill="#ece4ff" text-anchor="middle" textLength="11.5" lengthAdjust="spacingAndGlyphs">Гана</text>
<text x="640.5" y="315.9" font-family="Liberation Sans" font-size="5.2" fill="#ece4ff" text-anchor="middle" textLength="16.0" lengthAdjust="spacingAndGlyphs" transform="rotate(42 640.5 314.0)">Либерия</text>
<text x="746.6" y="325.5" font-family="Liberation Sans" font-size="7.6" fill="#ece4ff" text-anchor="middle" textLength="27.6" lengthAdjust="spacingAndGlyphs">Камерун</text>
<text x="747.0" y="354.7" font-family="Liberation Sans" font-size="6.0" fill="#ece4ff" text-anchor="middle" textLength="14.0" lengthAdjust="spacingAndGlyphs">Габон</text>
<text x="765.7" y="357.2" font-family="Liberation Sans" font-size="6.0" fill="#ece4ff" text-anchor="middle" textLength="14.0" lengthAdjust="spacingAndGlyphs" transform="rotate(-62 765.7 355.0)">Конго</text>
<text x="793.1" y="313.1" font-family="Liberation Sans" font-size="7.6" fill="#ece4ff" text-anchor="middle" textLength="13.8" lengthAdjust="spacingAndGlyphs">ЦАР</text>
<text x="832.5" y="301.4" font-family="Liberation Sans" font-size="6.6" fill="#ece4ff" text-anchor="middle" textLength="22.0" lengthAdjust="spacingAndGlyphs">Южный</text>
<text x="832.5" y="310.5" font-family="Liberation Sans" font-size="7.2" fill="#ece4ff" text-anchor="middle" textLength="22.0" lengthAdjust="spacingAndGlyphs">Судан</text>
<text x="884.0" y="308.8" font-family="Liberation Sans" font-size="7.6" fill="#ece4ff" text-anchor="middle" textLength="30.0" lengthAdjust="spacingAndGlyphs">Эфиопия</text>
<text x="907.3" y="330.2" font-family="Liberation Sans" font-size="6.0" fill="#ece4ff" text-anchor="middle" textLength="18.8" lengthAdjust="spacingAndGlyphs">Сомали</text>
<text x="847.0" y="342.5" font-family="Liberation Sans" font-size="5.6" fill="#ece4ff" text-anchor="middle" textLength="16.0" lengthAdjust="spacingAndGlyphs" transform="rotate(-60 847.0 340.5)">Уганда</text>
<text x="875.2" y="350.7" font-family="Liberation Sans" font-size="7.6" fill="#ece4ff" text-anchor="middle" textLength="19.5" lengthAdjust="spacingAndGlyphs">Кения</text>
<text x="822.5" y="356.6" font-family="Liberation Sans" font-size="5.6" fill="#ece4ff" text-anchor="middle" textLength="17.0" lengthAdjust="spacingAndGlyphs">Руанда</text>
<text x="803.9" y="374.1" font-family="Liberation Sans" font-size="7.6" fill="#ece4ff" text-anchor="middle" textLength="30.3" lengthAdjust="spacingAndGlyphs">ДР Конго</text>
<text x="851.8" y="369.5" font-family="Liberation Sans" font-size="5.6" fill="#ece4ff" text-anchor="middle" textLength="20.4" lengthAdjust="spacingAndGlyphs">Бурунди</text>
<text x="857.0" y="385.9" font-family="Liberation Sans" font-size="7.6" fill="#ece4ff" text-anchor="middle" textLength="29.5" lengthAdjust="spacingAndGlyphs">Танзания</text>
<text x="772.2" y="418.0" font-family="Liberation Sans" font-size="7.6" fill="#ece4ff" text-anchor="middle" textLength="23.8" lengthAdjust="spacingAndGlyphs">Ангола</text>
<text x="813.0" y="435.0" font-family="Liberation Sans" font-size="7.6" fill="#ece4ff" text-anchor="middle" textLength="22.6" lengthAdjust="spacingAndGlyphs">Замбия</text>
<text x="856.3" y="428.6" font-family="Liberation Sans" font-size="5.6" fill="#ece4ff" text-anchor="middle" textLength="18.8" lengthAdjust="spacingAndGlyphs">Малави</text>
<text x="864.5" y="445.0" font-family="Liberation Sans" font-size="5.6" fill="#ece4ff" text-anchor="middle" textLength="24.0" lengthAdjust="spacingAndGlyphs" transform="rotate(-60 864.5 443.0)">Мозамбик</text>
<text x="912.8" y="459.0" font-family="Liberation Sans" font-size="6.0" fill="#ece4ff" text-anchor="middle" textLength="30.0" lengthAdjust="spacingAndGlyphs" transform="rotate(-70 912.8 456.8)">Мадагаскар</text>
<text x="831.8" y="456.1" font-family="Liberation Sans" font-size="5.6" fill="#ece4ff" text-anchor="middle" textLength="22.6" lengthAdjust="spacingAndGlyphs">Зимбабве</text>
<text x="769.7" y="462.4" font-family="Liberation Sans" font-size="7.6" fill="#ece4ff" text-anchor="middle" textLength="28.8" lengthAdjust="spacingAndGlyphs">Намибия</text>
<text x="805.0" y="473.5" font-family="Liberation Sans" font-size="7.6" fill="#ece4ff" text-anchor="middle" textLength="29.0" lengthAdjust="spacingAndGlyphs">Ботсвана</text>
<text x="826.8" y="491.5" font-family="Liberation Sans" font-size="5.6" fill="#ece4ff" text-anchor="middle" textLength="22.6" lengthAdjust="spacingAndGlyphs">Эсватини</text>
<text x="808.6" y="510.5" font-family="Liberation Sans" font-size="5.6" fill="#ece4ff" text-anchor="middle" textLength="16.4" lengthAdjust="spacingAndGlyphs">Лесото</text>
<text x="801.1" y="520.5" font-family="Liberation Sans" font-size="7.6" fill="#ece4ff" text-anchor="middle" textLength="16.2" lengthAdjust="spacingAndGlyphs">ЮАР</text>
<text x="754.2" y="141.5" font-family="Liberation Sans" font-size="7.4" fill="#2b2b2b" text-anchor="middle" textLength="18.8" lengthAdjust="spacingAndGlyphs">Тунис</text>
<text x="628.0" y="165.3" font-family="Liberation Sans" font-size="7.4" fill="#2b2b2b" text-anchor="middle" textLength="28.8" lengthAdjust="spacingAndGlyphs">Марокко</text>
<text x="577.8" y="200.5" font-family="Liberation Sans" font-size="7.4" fill="#2b2b2b" text-anchor="middle" textLength="54.0" lengthAdjust="spacingAndGlyphs">Западная Сахара</text>
<text x="556.5" y="249.4" font-family="Liberation Sans" font-size="5.4" fill="#2b2b2b" text-anchor="middle" textLength="29.0" lengthAdjust="spacingAndGlyphs">Кабо-Верде</text>
<text x="594.5" y="275.8" font-family="Liberation Sans" font-size="5.4" fill="#2b2b2b" text-anchor="middle" textLength="18.0" lengthAdjust="spacingAndGlyphs">Гамбия</text>
<text x="591.6" y="287.8" font-family="Liberation Sans" font-size="5.4" fill="#2b2b2b" text-anchor="middle" textLength="36.4" lengthAdjust="spacingAndGlyphs">Гвинея-Бисау</text>
<text x="603.5" y="308.4" font-family="Liberation Sans" font-size="5.4" fill="#2b2b2b" text-anchor="middle" textLength="35.0" lengthAdjust="spacingAndGlyphs">Сьерра-Леоне</text>
<text x="721.0" y="337.2" font-family="Liberation Sans" font-size="5.4" fill="#2b2b2b" text-anchor="middle" textLength="23.8" lengthAdjust="spacingAndGlyphs">Эк. Гвинея</text>
<text x="687.6" y="351.8" font-family="Liberation Sans" font-size="5.4" fill="#2b2b2b" text-anchor="middle" textLength="55.0" lengthAdjust="spacingAndGlyphs">Сан-Томе и Принсипи</text>
<text x="888.2" y="251.1" font-family="Liberation Sans" font-size="5.2" fill="#2b2b2b" text-anchor="middle" textLength="19.4" lengthAdjust="spacingAndGlyphs">Эритрея</text>
<text x="911.7" y="278.0" font-family="Liberation Sans" font-size="5.6" fill="#2b2b2b" text-anchor="middle" textLength="22.6" lengthAdjust="spacingAndGlyphs">Джибути</text>
<text x="944.3" y="367.6" font-family="Liberation Sans" font-size="5.6" fill="#2b2b2b" text-anchor="middle" textLength="22.6" lengthAdjust="spacingAndGlyphs">Сейшелы</text>
<text x="895.8" y="408.4" font-family="Liberation Sans" font-size="5.4" fill="#2b2b2b" text-anchor="middle" textLength="20.0" lengthAdjust="spacingAndGlyphs">Коморы</text>
<text x="917.5" y="414.7" font-family="Liberation Sans" font-size="5.4" fill="#2b2b2b" text-anchor="middle" textLength="19.3" lengthAdjust="spacingAndGlyphs">Майотта</text>
<text x="977.5" y="454.8" font-family="Liberation Sans" font-size="5.6" fill="#2b2b2b" text-anchor="middle" textLength="24.5" lengthAdjust="spacingAndGlyphs">Маврикий</text>
<text x="969.9" y="473.4" font-family="Liberation Sans" font-size="5.4" fill="#2b2b2b" text-anchor="middle" textLength="21.0" lengthAdjust="spacingAndGlyphs">Реюньон</text>
<line x1="745.0" y1="141.5" x2="734.0" y2="147.0" stroke="#555" stroke-width="0.5"/>
<line x1="643.0" y1="166.0" x2="650.0" y2="172.0" stroke="#555" stroke-width="0.5"/>
<line x1="605.0" y1="201.5" x2="621.0" y2="212.0" stroke="#555" stroke-width="0.5"/>
<line x1="565.0" y1="251.0" x2="569.0" y2="256.0" stroke="#555" stroke-width="0.5"/>
<line x1="604.0" y1="275.0" x2="607.0" y2="276.0" stroke="#555" stroke-width="0.5"/>
<line x1="610.0" y1="286.0" x2="612.0" y2="286.0" stroke="#555" stroke-width="0.5"/>
<line x1="621.0" y1="307.0" x2="625.0" y2="307.0" stroke="#555" stroke-width="0.5"/>
<line x1="732.0" y1="337.0" x2="734.0" y2="339.0" stroke="#555" stroke-width="0.5"/>
<line x1="715.0" y1="350.0" x2="719.0" y2="346.0" stroke="#555" stroke-width="0.5"/>
<line x1="899.0" y1="250.0" x2="900.0" y2="253.0" stroke="#555" stroke-width="0.5"/>
<line x1="901.0" y1="277.0" x2="897.0" y2="280.0" stroke="#555" stroke-width="0.5"/>
<line x1="956.0" y1="368.0" x2="960.0" y2="371.0" stroke="#555" stroke-width="0.5"/>
<line x1="907.0" y1="411.0" x2="903.0" y2="414.0" stroke="#555" stroke-width="0.5"/>
<line x1="916.0" y1="415.0" x2="910.0" y2="419.0" stroke="#555" stroke-width="0.5"/>
<text x="689.5" y="326" font-family="Liberation Sans" font-size="5.4" fill="#2b2b2b" text-anchor="middle" transform="rotate(-70 689.5 324)">Того</text>
<text x="699" y="288.0" font-family="Liberation Sans" font-size="5" fill="#ece4ff" text-anchor="middle">Б</text>
<text x="699" y="293.2" font-family="Liberation Sans" font-size="5" fill="#ece4ff" text-anchor="middle">е</text>
<text x="699" y="298.4" font-family="Liberation Sans" font-size="5" fill="#ece4ff" text-anchor="middle">н</text>
<text x="699" y="303.6" font-family="Liberation Sans" font-size="5" fill="#ece4ff" text-anchor="middle">и</text>
<text x="699" y="308.8" font-family="Liberation Sans" font-size="5" fill="#ece4ff" text-anchor="middle">н</text>
</svg>
</body></html>
